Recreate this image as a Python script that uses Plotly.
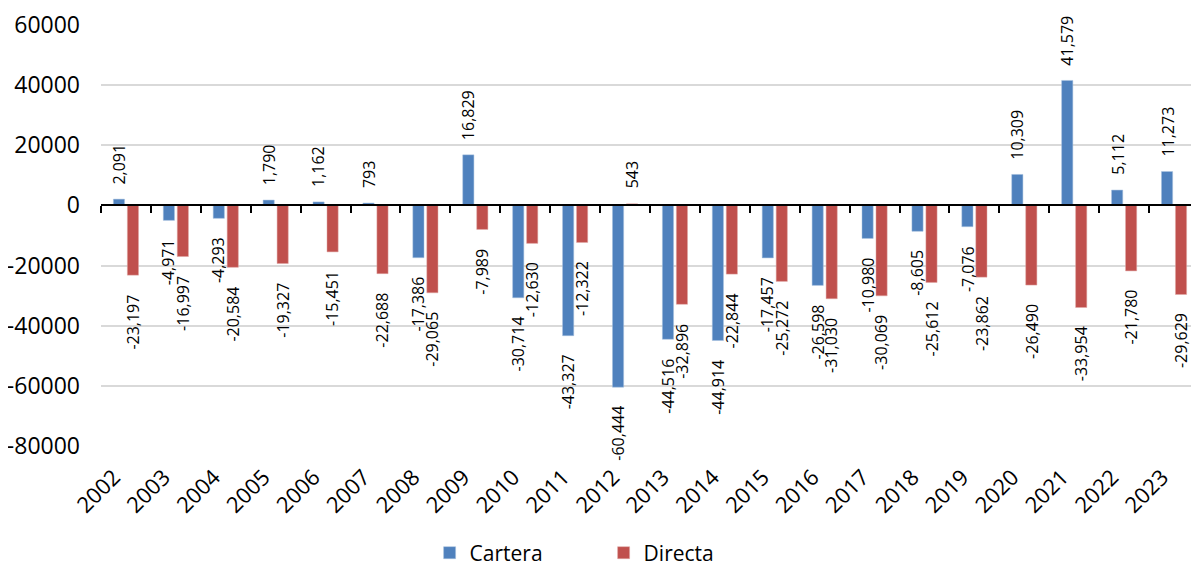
import plotly.graph_objects as go

years = [str(y) for y in range(2002, 2024)]
cartera = [2091, -4971, -4293, 1790, 1162, 793, -17386, 16829, -30714, -43327, -60444,
           -44516, -44914, -17457, -26598, -10980, -8605, -7076, 10309, 41579, 5112, 11273]
directa = [-23197, -16997, -20584, -19327, -15451, -22688, -29065, -7989, -12630, -12322, 543,
           -32896, -22844, -25272, -31030, -30069, -25612, -23862, -26490, -33954, -21780, -29629]
y_ticks = [60000, 40000, 20000, 0, -20000, -40000, -60000, -80000]

FONT = "Open Sans"
ymin, ymax = -80000 * 1.0002, 60000 * 1.0002
BLUE, RED = "#4F81BD", "#C0504D"

def fmt(v):
    return f"{v:,}"

fig = go.Figure()
fig.add_trace(go.Bar(name="Cartera", x=years, y=cartera, marker_color=BLUE,
                     marker_line_color="#A7C0DE", marker_line_width=0.5))
fig.add_trace(go.Bar(name="Directa", x=years, y=directa, marker_color=RED,
                     marker_line_color="#E0A8A6", marker_line_width=0.5))
# invisible trace to draw the category axis with tick marks at zero
fig.add_trace(go.Scatter(x=years, y=[0] * len(years), xaxis="x2", yaxis="y",
                         mode="markers", marker=dict(opacity=0), showlegend=False,
                         hoverinfo="skip"))

# data labels (rotated, outside end of each bar); x given as category index
annotations = []
for series, shift in ((cartera, -7), (directa, 7)):
    for i, v in enumerate(series):
        pos = v >= 0
        annotations.append(dict(
            x=i, y=v, xref="x", yref="y", text=fmt(v), showarrow=False,
            textangle=-90, xanchor="center", yanchor="bottom" if pos else "top",
            xshift=shift, yshift=13 if pos else -17,
            font=dict(family=FONT, size=16, color="#000000")))

zero_pos = (0 - ymin) / (ymax - ymin)

fig.update_layout(
    width=1191, height=559,
    margin=dict(l=93, r=0, t=17, b=121, autoexpand=False),
    plot_bgcolor="white", paper_bgcolor="white",
    barmode="group", bargap=0.44, bargroupgap=0.2,
    font=dict(family=FONT, color="#000000"),
    annotations=annotations,
    xaxis=dict(type="category", tickangle=-45, showgrid=False, showline=False,
               ticks="", tickfont=dict(family=FONT, size=22, color="#000000"),
               ticklabelstandoff=13, ticklabelshift=-12,
               range=[-0.5, len(years) - 0.5], automargin=False),
    xaxis2=dict(type="category", overlaying="x", anchor="free", position=zero_pos,
                matches="x", showticklabels=False, showline=True, linecolor="#000000",
                linewidth=2, ticks="outside", tickson="boundaries", ticklen=7,
                tickwidth=2, tickcolor="#000000", showgrid=False, side="bottom",
                automargin=False),
    yaxis=dict(range=[ymin, ymax], tickvals=y_ticks, ticktext=[str(v) for v in y_ticks],
               showgrid=True, gridcolor="#D9D9D9", gridwidth=2, zeroline=False,
               showline=False, tickfont=dict(family=FONT, size=23, color="#000000"),
               ticks="", ticklabelstandoff=20, automargin=False),
    legend=dict(orientation="h", xref="container", yref="container", x=0.354, y=0.025,
                xanchor="left", yanchor="middle",
                font=dict(family=FONT, size=21, color="#000000"),
                itemwidth=30, entrywidth=129, entrywidthmode="pixels",
                traceorder="normal"),
)

fig.write_html("out.html")
